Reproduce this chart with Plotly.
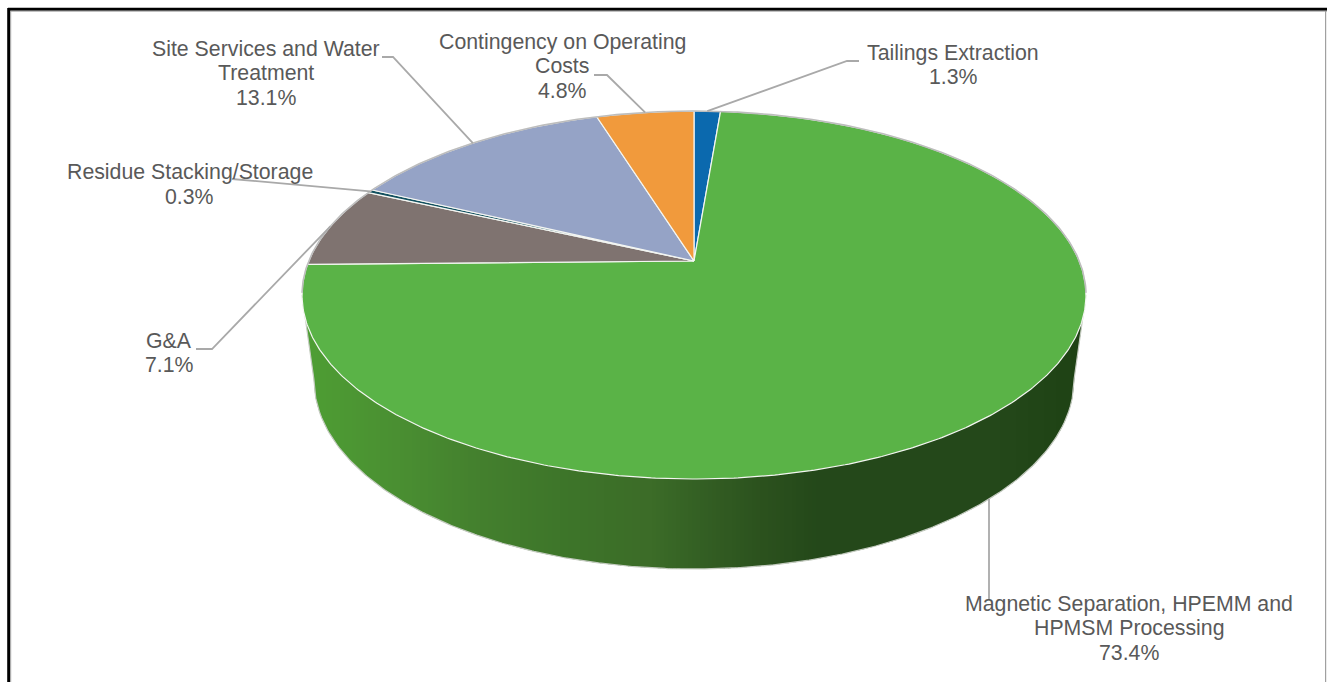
import numpy as np
import plotly.graph_objects as go

# ---------- data ----------
categories = [
    "Tailings Extraction",
    "Magnetic Separation, HPEMM and<br>HPMSM Processing",
    "G&A",
    "Residue Stacking/Storage",
    "Site Services and Water<br>Treatment",
    "Contingency on Operating<br>Costs",
]
values = [1.3, 73.4, 7.1, 0.3, 13.1, 4.8]

# ---------- styles ----------
slice_colors = ["#0b69ae", "#5ab347", "#7f7370", "#12505f", "#95a3c6", "#f19a3c"]
label_centres = [(953, 65), (1129, 628), (169, 353), (189.5, 184.5), (266, 73), (562, 66)]
TEXT = "#595959"
LEADER = "#a9a9a9"
FONT = "Liberation Sans"
FONT_SIZE = 21.3
LINE_PITCH = 24.5

W, H = 1327, 682

# ---------- perspective geometry of the pie's top face ----------
CX, EY, RX, RY, APEX_UP = 694.0, 295.0, 392.0, 184.0, 34.0
k = APEX_UP / RY
c = RX * np.sqrt(1 - k * k)


def project(deg):
    """Clockwise degrees from 12 o'clock -> plot coordinates."""
    a = np.radians(deg)
    u, v = np.sin(a), np.cos(a)
    w = 1 + k * v
    return CX + c * u / w, EY - (RY * v + APEX_UP) / w


# Lower rim of the pie's underside
BX, BY, BRX, BRY = 694.0, 380.0, 380.0, 189.0

wall_x = [302, 320, 400, 480, 560, 650, 700, 760, 820, 880, 1000, 1086]
wall_rgb = [
    (80, 160, 54), (78, 156, 52), (74, 143, 50), (68, 128, 46), (62, 118, 42), (60, 108, 40),
    (52, 96, 36), (44, 82, 30), (36, 72, 26), (36, 72, 26), (36, 72, 26), (30, 66, 20),
]


def wall_colour(x):
    return "rgb(%d,%d,%d)" % tuple(np.interp(x, wall_x, [p[i] for p in wall_rgb]) for i in range(3))


def top_y(x):
    d = np.clip((x - CX) / RX, -1, 1)
    return EY + RY * np.sqrt(1 - d * d)


def bottom_y(x):
    x = np.asarray(x, float)
    out = np.zeros_like(x)
    inside = np.abs(x - BX) <= BRX
    out[inside] = BY + BRY * np.sqrt(1 - ((x[inside] - BX) / BRX) ** 2)
    # straight silhouette beyond the lower rim
    left, right = x < BX - BRX, x > BX + BRX
    out[left] = EY + (BY - EY) * (x[left] - (CX - RX)) / ((BX - BRX) - (CX - RX))
    out[right] = EY + (BY - EY) * ((CX + RX) - x[right]) / ((CX + RX) - (BX + BRX))
    return out


fig = go.Figure()

# Side wall, as narrow vertical strips carrying the gradient
edges = np.concatenate([
    np.linspace(CX - RX, CX - RX + 24, 9),
    np.arange(CX - RX + 30, CX + RX - 24, 4),
    np.linspace(CX + RX - 24, CX + RX, 9),
])
for x0, x1 in zip(edges[:-1], edges[1:]):
    xs = np.linspace(x0, x1 + 0.6 if x1 < CX + RX else x1, 5)
    xs = np.clip(xs, CX - RX, CX + RX)
    fig.add_trace(go.Scatter(
        x=np.concatenate([xs, xs[::-1]]),
        y=np.concatenate([top_y(xs) - 2, bottom_y(xs)[::-1]]),
        fill="toself", fillcolor=wall_colour((x0 + x1) / 2), mode="none",
        hoverinfo="skip", showlegend=False,
    ))

# Outline of the wall's lower edge and silhouettes
out_x = np.linspace(CX - RX, CX + RX, 400)
fig.add_trace(go.Scatter(x=out_x, y=bottom_y(out_x), mode="lines",
                         line=dict(color="#c4cbc0", width=1.2), hoverinfo="skip", showlegend=False))

# Top-face slices
apex = (CX, EY - APEX_UP)
boundaries = np.cumsum([0] + values) / sum(values) * 360.0
mids = (boundaries[:-1] + boundaries[1:]) / 2
for name, val, col, a0, a1 in zip(categories, values, slice_colors, boundaries[:-1], boundaries[1:]):
    ax, ay = project(np.linspace(a0, a1, max(int(a1 - a0) * 2, 6)))
    fig.add_trace(go.Scatter(
        x=np.concatenate([[apex[0]], ax, [apex[0]]]),
        y=np.concatenate([[apex[1]], ay, [apex[1]]]),
        fill="toself", fillcolor=col, mode="lines",
        line=dict(color="#f4f6f2", width=1.2),
        name=name.replace("<br>", " "), text=f"{val:.1f}%", hoverinfo="name+text", showlegend=False,
    ))

# Grey rim over the back and sides of the top face
rx_, ry_ = project(np.linspace(-100, 100, 300))
fig.add_trace(go.Scatter(x=rx_, y=ry_, mode="lines", line=dict(color="#bdbdbd", width=1.6),
                         hoverinfo="skip", showlegend=False))

# Leader lines: each starts on the rim at its slice's mid-angle
rim = {i: tuple(float(t) for t in project(mids[i])) for i in range(len(values))}
leaders = [
    [rim[0], (847, 61), (859, 61)],
    [(989, 499), (989, 600)],
    [rim[2], (212, 349), (196, 349)],
    [rim[3], (232, 179)],
    [rim[4], (393, 57), (382, 57)],
    [rim[5], (607, 75), (594, 75)],
]
for pts in leaders:
    fig.add_trace(go.Scatter(x=[p[0] for p in pts], y=[p[1] for p in pts], mode="lines",
                             line=dict(color=LEADER, width=1.8), hoverinfo="skip", showlegend=False))

# Labels: one annotation per line so the line pitch can follow the reference
annotations = []
for name, val, pos in zip(categories, values, label_centres):
    lines = name.split("<br>") + [f"{val:.1f}%"]
    for i, line in enumerate(lines):
        annotations.append(dict(
            x=pos[0], y=pos[1] + (i - (len(lines) - 1) / 2) * LINE_PITCH,
            xref="x", yref="y", xanchor="center", yanchor="middle",
            text=line, showarrow=False, align="center",
            font=dict(family=FONT, size=FONT_SIZE, color=TEXT)))

# Frame
frame = [
    dict(x0=8, x1=W, y0=9.2, y1=9.2, color="#000000", width=3),
    dict(x0=10, x1=W, y0=11.2, y1=11.2, color="#a6a6a6", width=1),
    dict(x0=8.7, x1=8.7, y0=8, y1=H, color="#000000", width=3),
    dict(x0=10.7, x1=10.7, y0=11, y1=H, color="#a6a6a6", width=1),
    dict(x0=1325.6, x1=1325.6, y0=11, y1=H, color="#a0a0a0", width=1.2),
]
shapes = [dict(type="line", xref="x", yref="y", x0=f["x0"], x1=f["x1"], y0=f["y0"], y1=f["y1"],
               line=dict(color=f["color"], width=f["width"])) for f in frame]

fig.update_layout(
    width=W, height=H, margin=dict(l=0, r=0, t=0, b=0, pad=0),
    paper_bgcolor="white", plot_bgcolor="white", showlegend=False,
    xaxis=dict(range=[0, W], visible=False, fixedrange=True),
    yaxis=dict(range=[H, 0], visible=False, fixedrange=True),
    annotations=annotations, shapes=shapes,
)
fig.write_html("out.html", config={"displayModeBar": False},
               post_script="document.body.style.margin='0';")
